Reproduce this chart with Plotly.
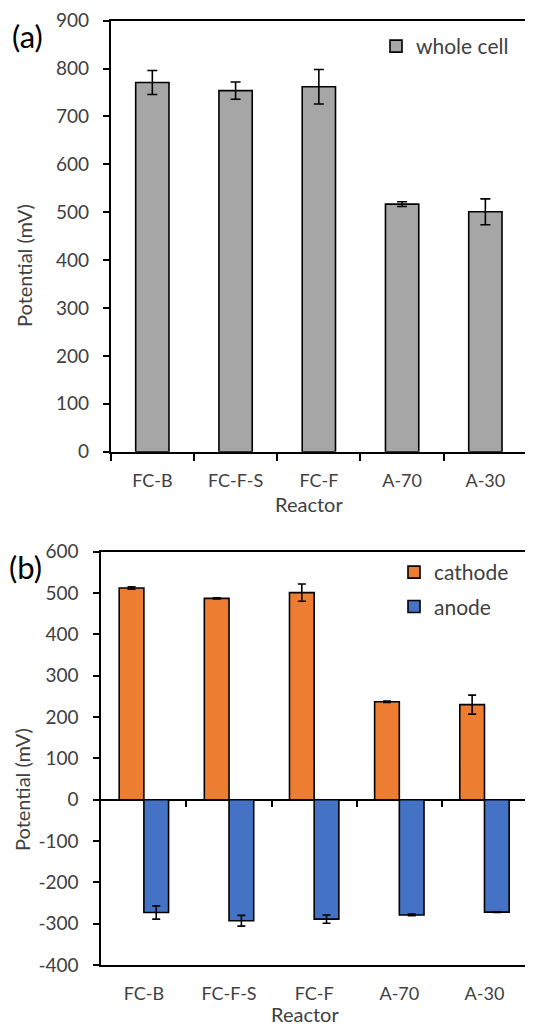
import plotly.graph_objects as go

# ---- data ----
reactors = ["FC-B", "FC-F-S", "FC-F", "A-70", "A-30"]
whole_cell = [771, 754, 762, 517, 501]
whole_cell_err = [25, 18, 36, 5, 27]
cathode = [512, 487, 501, 237, 230]
cathode_err = [3, 1.5, 21, 1.5, 23]
anode = [-273, -293, -289, -279, -272]
anode_err = [16, 13, 10, 2, 1]
y_ticks_a = list(range(0, 901, 100))
y_ticks_b = list(range(-400, 601, 100))

# page is 533x1028; the html body has an 8px margin, so the figure starts at (8, 8)
PAGE_W, PAGE_H = 533, 1028
OFF = 8
W, H = PAGE_W - OFF, PAGE_H - OFF
FONT = "Lato"
TXT = "#404040"

def px(x):
    return (x - OFF) / W

def py(y):
    return 1 - (y - OFF) / H

fig = go.Figure()

fig.add_trace(go.Bar(
    x=reactors, y=whole_cell, name="whole cell", width=0.4,
    marker=dict(color="#a6a6a6", line=dict(color="black", width=1.6)),
    error_y=dict(type="data", array=whole_cell_err, color="black", thickness=1.6, width=5),
    xaxis="x", yaxis="y", legend="legend",
))
fig.add_trace(go.Bar(
    x=reactors, y=cathode, name="cathode", legendgroup="c",
    marker=dict(color="#ed7d31", line=dict(color="black", width=1.6)),
    error_y=dict(type="data", array=cathode_err, color="black", thickness=1.6, width=4),
    xaxis="x2", yaxis="y2", legend="legend2",
))
fig.add_trace(go.Bar(
    x=reactors, y=anode, name="anode", legendgroup="a",
    marker=dict(color="#4472c4", line=dict(color="black", width=1.6)),
    error_y=dict(type="data", array=anode_err, color="black", thickness=1.6, width=4),
    xaxis="x2", yaxis="y2", legend="legend2",
))
# empty trace so the zero-line tick axis is drawn
fig.add_trace(go.Scatter(x=[], y=[], xaxis="x3", yaxis="y2", showlegend=False,
                         hoverinfo="skip"))

# panel geometry (page pixels)
a_left, a_right, a_top, a_bot = 110.7, 527, 20.7, 451.7
b_left, b_top, b_bot = 101.3, 551.7, 965
b_cat = 85.15
b_xmax = -0.5 + (PAGE_W - b_left) / b_cat
zero_b = b_top + (b_bot - b_top) * 600 / 1000

xtickfont = dict(family=FONT, size=18, color=TXT)
ytickfont = dict(family=FONT, size=19, color=TXT)
LW = 1.8

fig.update_layout(
    template="none",
    width=W, height=H,
    margin=dict(l=0, r=0, t=0, b=0, pad=0, autoexpand=False),
    paper_bgcolor="white", plot_bgcolor="white",
    barmode="group", bargap=0.42, bargroupgap=0,
    font=dict(family=FONT, size=18, color=TXT),
    xaxis=dict(domain=[px(a_left), px(a_right)], anchor="y", automargin=False,
               type="category", range=[-0.5, 4.5],
               showline=True, linecolor="black", linewidth=LW, mirror=True,
               ticks="outside", tickson="boundaries", ticklen=7, tickwidth=LW,
               tickcolor="black", tickfont=xtickfont, ticklabelstandoff=12,
               showgrid=False, zeroline=False),
    yaxis=dict(domain=[py(a_bot), py(a_top)], anchor="x", automargin=False,
               range=[0, 900], tickvals=y_ticks_a,
               showline=True, linecolor="black", linewidth=LW, mirror=True,
               ticks="outside", ticklen=6, tickwidth=LW, tickcolor="black",
               ticklabelstandoff=10,
               tickfont=ytickfont, showgrid=False, zeroline=False),
    xaxis2=dict(domain=[px(b_left), 1.0], anchor="y2", automargin=False,
                type="category", range=[-0.5, b_xmax],
                showline=True, linecolor="black", linewidth=LW, mirror=True,
                ticks="", tickfont=xtickfont, ticklabelstandoff=11,
                showgrid=False, zeroline=False),
    xaxis3=dict(overlaying="x2", anchor="free", position=py(zero_b), automargin=False,
                type="linear", range=[-0.5, b_xmax],
                tickvals=[i + 0.5 for i in range(len(reactors) - 1)],
                showticklabels=False, showline=False, showgrid=False,
                zeroline=False, ticks="outside", ticklen=6, tickwidth=LW,
                tickcolor="black"),
    yaxis2=dict(domain=[py(b_bot), py(b_top)], anchor="x2", automargin=False,
                range=[-400, 600], tickvals=y_ticks_b,
                ticktext=[str(v) for v in y_ticks_b],
                showline=True, linecolor="black", linewidth=LW, mirror=False,
                ticks="outside", ticklen=6, tickwidth=LW, tickcolor="black",
                ticklabelstandoff=11,
                tickfont=ytickfont, showgrid=False,
                zeroline=True, zerolinecolor="black", zerolinewidth=LW),
    legend=dict(x=px(514), y=py(26), xanchor="right", yanchor="top",
                bgcolor="rgba(0,0,0,0)", font=dict(family=FONT, size=21, color=TXT),
                itemwidth=30),
    legend2=dict(x=px(514), y=py(552), xanchor="right", yanchor="top",
                 bgcolor="rgba(0,0,0,0)", font=dict(family=FONT, size=21, color=TXT),
                 itemwidth=30, traceorder="grouped", tracegroupgap=4),
    showlegend=True,
)

def label(text, x, y, size, color=TXT, angle=0):
    return dict(text=text, x=px(x), y=py(y), xref="paper", yref="paper",
                xanchor="center", yanchor="middle", textangle=angle,
                showarrow=False, font=dict(family=FONT, size=size, color=color))

ann = [
    label("(a)", 27, 36, 31, "black"),
    label("(b)", 25, 567, 31, "black"),
    label("Potential (mV)", 24, 266, 20, angle=-90),
    label("Potential (mV)", 22, 790, 20, angle=-90),
    label("Reactor", 309, 504, 20),
    label("Reactor", 305, 1014, 20),
]
fig.update_layout(annotations=ann)

fig.write_html("out.html")
